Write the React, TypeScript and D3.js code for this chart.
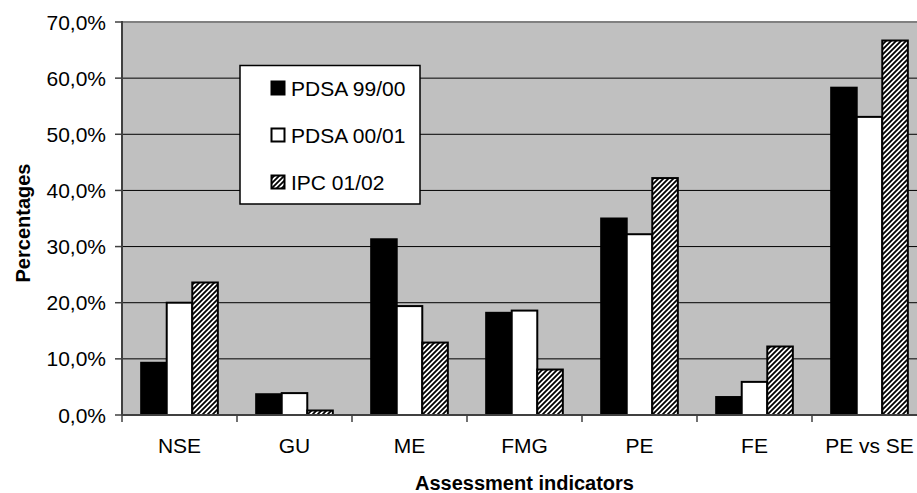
import React from "react";
import * as d3 from "d3";

// Assessment indicator categories and series values (percent)
const categories = ["NSE", "GU", "ME", "FMG", "PE", "FE", "PE vs SE"];
const pdsa9900 = [9.3, 3.7, 31.3, 18.2, 35.0, 3.2, 58.3];
const pdsa0001 = [20.0, 3.9, 19.4, 18.6, 32.2, 5.9, 53.1];
const ipc0102 = [23.6, 0.8, 12.9, 8.1, 42.2, 12.2, 66.7];
const seriesNames = ["PDSA 99/00", "PDSA 00/01", "IPC 01/02"];
const yTicks = [0, 10, 20, 30, 40, 50, 60, 70];

const W = 917;
const H = 493;
const FONT = "'Liberation Sans', Arial, Helvetica, sans-serif";

export default function App() {
  const series = [pdsa9900, pdsa0001, ipc0102];
  const fills = ["#000000", "#ffffff", "url(#hatch)"];

  const plotLeft = 122;
  const plotRight = 927;
  const plotTop = 22;
  const plotBottom = 415;

  const x = d3.scaleBand<string>().domain(categories).range([plotLeft, plotRight]).paddingInner(0).paddingOuter(0);
  const bw = x.bandwidth();
  // gap width 150%: group occupies 3/(3+1.5) of the band
  const groupW = (bw * 3) / 4.5;
  const xs = d3
    .scaleBand<number>()
    .domain([0, 1, 2])
    .range([(bw - groupW) / 2, (bw + groupW) / 2])
    .padding(0);
  const y = d3.scaleLinear().domain([0, 70]).range([plotBottom, plotTop]);
  const fmt = (v: number) => v.toFixed(1).replace(".", ",") + "%";

  const boundaries = d3.range(categories.length + 1).map((i) => plotLeft + i * bw);

  const legendRows = [88, 135, 182];

  return (
    <svg
      width={W}
      height={H}
      style={{ position: "absolute", left: 0, top: 0, background: "#ffffff" }}
      fontFamily={FONT}
    >
      <defs>
        <pattern id="hatch" patternUnits="userSpaceOnUse" width={5} height={5}>
          <rect width={5} height={5} fill="#ffffff" />
          <path d="M-1,1 l2,-2 M0,5 l5,-5 M4,6 l2,-2" stroke="#000" strokeWidth={1.8} />
        </pattern>
        <pattern id="hatchLegend" patternUnits="userSpaceOnUse" width={5} height={5}>
          <rect width={5} height={5} fill="#ffffff" />
          <path d="M-1,1 l2,-2 M0,5 l5,-5 M4,6 l2,-2" stroke="#000" strokeWidth={1.8} />
        </pattern>
      </defs>

      {/* plot background */}
      <rect x={plotLeft} y={plotTop} width={plotRight - plotLeft} height={plotBottom - plotTop} fill="#c0c0c0" />

      {/* gridlines */}
      {yTicks.slice(1, -1).map((t) => (
        <line key={t} x1={plotLeft} x2={plotRight} y1={y(t)} y2={y(t)} stroke="#000" strokeWidth={1} />
      ))}
      <line x1={plotLeft} x2={plotRight} y1={plotTop} y2={plotTop} stroke="#808080" strokeWidth={2} />
      <line x1={plotRight} x2={plotRight} y1={plotTop} y2={plotBottom} stroke="#808080" strokeWidth={2} />

      {/* bars */}
      {categories.map((c, ci) => (
        <g key={c} transform={`translate(${x(c)},0)`}>
          {series.map((s, si) => (
            <rect
              key={si}
              x={xs(si)}
              y={y(s[ci])}
              width={xs.bandwidth()}
              height={plotBottom - y(s[ci])}
              fill={fills[si]}
              stroke="#000"
              strokeWidth={2}
            />
          ))}
        </g>
      ))}

      {/* axes */}
      <line x1={plotLeft} x2={plotLeft} y1={plotTop - 1} y2={plotBottom} stroke="#404040" strokeWidth={2} />
      <line x1={plotLeft} x2={plotRight} y1={plotBottom} y2={plotBottom} stroke="#404040" strokeWidth={2} />
      {yTicks.map((t) => (
        <g key={t}>
          <line x1={plotLeft - 7} x2={plotLeft} y1={y(t)} y2={y(t)} stroke="#404040" strokeWidth={1.5} />
          <text x={106} y={y(t)} dy="0.36em" textAnchor="end" fontSize={21} fill="#000">
            {fmt(t)}
          </text>
        </g>
      ))}
      {boundaries.map((b, i) => (
        <line key={i} x1={b} x2={b} y1={plotBottom} y2={plotBottom + 7} stroke="#404040" strokeWidth={1.5} />
      ))}
      {categories.map((c) => (
        <text key={c} x={(x(c) as number) + bw / 2} y={453} textAnchor="middle" fontSize={21} fill="#000">
          {c}
        </text>
      ))}

      {/* axis titles */}
      <text x={(plotLeft + plotRight) / 2} y={490} textAnchor="middle" fontSize={20} fontWeight="bold" fill="#000">
        Assessment indicators
      </text>
      <text
        transform={`translate(30,223) rotate(-90)`}
        textAnchor="middle"
        fontSize={20}
        fontWeight="bold"
        fill="#000"
      >
        Percentages
      </text>

      {/* legend */}
      <rect x={240} y={65.5} width={180} height={138.5} fill="#ffffff" stroke="#000" strokeWidth={1.5} />
      {seriesNames.map((n, i) => (
        <g key={n}>
          <rect
            x={271.5}
            y={legendRows[i] - 6.5}
            width={13}
            height={13}
            fill={i === 2 ? "url(#hatchLegend)" : fills[i]}
            stroke="#000"
            strokeWidth={2}
          />
          <text x={291} y={legendRows[i]} dy="0.36em" fontSize={21} fill="#000">
            {n}
          </text>
        </g>
      ))}
    </svg>
  );
}
